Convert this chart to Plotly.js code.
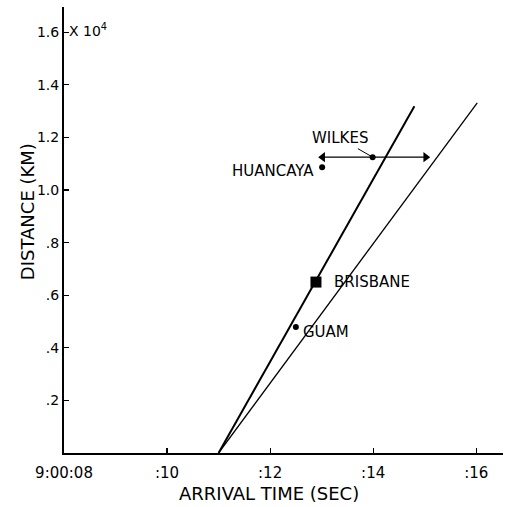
<!DOCTYPE html>
<html>
<head>
<meta charset="utf-8">
<script src="https://cdn.plot.ly/plotly-3.0.1.min.js"></script>
<style>html,body{margin:0;padding:0;background:#fff;}#chart{width:510px;height:507px;}</style>
</head>
<body>
<div id="chart"></div>
<script>
// seconds after 9:00:00 ; distance in units of 10^4 km
const steepLineTime = [11.0, 14.80];
const steepLineDist = [0, 1.319];
const shallowLineTime = [11.0, 16.02];
const shallowLineDist = [0, 1.331];

const stationNames = ["HUANCAYA", "WILKES", "GUAM"];
const stationTime = [13.01, 13.99, 12.50];
const stationDist = [1.087, 1.125, 0.479];

const brisbaneTime = [12.89];
const brisbaneDist = [0.65];

const wilkesRange = [13.02, 15.02];

const xTickVals = [8, 10, 12, 14, 16];
const xTickText = ["9:00:08", ":10", ":12", ":14", ":16"];
const yTickVals = [0.2, 0.4, 0.6, 0.8, 1.0, 1.2, 1.4, 1.6];
const yTickText = [".2", ".4", ".6", ".8", "1.0", "1.2", "1.4", "1.6"];

const F = "DejaVu Sans, Liberation Sans, sans-serif";

const traces = [
  {x: steepLineTime, y: steepLineDist, mode: "lines", line: {color: "#000", width: 2}, hoverinfo: "skip"},
  {x: shallowLineTime, y: shallowLineDist, mode: "lines", line: {color: "#000", width: 1.3}, hoverinfo: "skip"},
  {x: wilkesRange, y: [stationDist[1], stationDist[1]], mode: "lines+markers",
   line: {color: "#000", width: 1.4},
   marker: {color: "#000", size: 9, symbol: ["triangle-left", "triangle-right"]}, hoverinfo: "skip"},
  {x: stationTime, y: stationDist, mode: "markers", marker: {color: "#000", size: 6, symbol: "circle"}, hoverinfo: "skip"},
  {x: brisbaneTime, y: brisbaneDist, mode: "markers", marker: {color: "#000", size: 11, symbol: "square"}, hoverinfo: "skip"}
];

const lab = {family: F, size: 15, color: "#000"};
const annotations = [
  {x: stationTime[0], y: stationDist[0], xref: "x", yref: "y", text: stationNames[0], showarrow: false, xanchor: "right", xshift: -6, yshift: -4, font: lab},
  {x: stationTime[1], y: stationDist[1], xref: "x", yref: "y", text: stationNames[1], showarrow: true, arrowhead: 0, arrowwidth: 1, arrowcolor: "#000", ax: -33, ay: -19, standoff: 2, font: lab},
  {x: stationTime[2], y: stationDist[2], xref: "x", yref: "y", text: stationNames[2], showarrow: false, xanchor: "left", xshift: 5, yshift: -5, font: lab},
  {x: brisbaneTime[0], y: brisbaneDist[0], xref: "x", yref: "y", text: "BRISBANE", showarrow: false, xanchor: "left", xshift: 16, yshift: 0, font: lab},
  {x: 0, y: 1.6, xref: "paper", yref: "y", text: "X 10<sup>4</sup>", showarrow: false, xanchor: "left", xshift: 3, yshift: 2, font: {family: F, size: 14, color: "#000"}},
  {x: 0, y: 0.54, xref: "paper", yref: "paper", text: "DISTANCE (KM)", textangle: -90, showarrow: false, xanchor: "center", yanchor: "middle", xshift: -37, font: {family: F, size: 18, color: "#000"}},
  {x: 0.467, y: 0, xref: "paper", yref: "paper", text: "ARRIVAL TIME (SEC)", showarrow: false, xanchor: "center", yanchor: "middle", yshift: -40, font: {family: F, size: 18, color: "#000"}}
];

const layout = {
  width: 510, height: 507,
  margin: {l: 64, r: 7, t: 7, b: 54},
  paper_bgcolor: "#fff", plot_bgcolor: "#fff",
  showlegend: false,
  font: {family: F, color: "#000"},
  xaxis: {
    range: [8, 16.52], tickvals: xTickVals, ticktext: xTickText,
    ticks: "inside", ticklen: 5, tickwidth: 1.2, tickcolor: "#000",
    showline: true, linecolor: "#000", linewidth: 2, showgrid: false, zeroline: false,
    ticklabelstandoff: 5,
    tickfont: {family: F, size: 15, color: "#000"}
  },
  yaxis: {
    range: [0, 1.696], tickvals: yTickVals, ticktext: yTickText,
    ticks: "inside", ticklen: 5, tickwidth: 1.2, tickcolor: "#000",
    showline: true, linecolor: "#000", linewidth: 2, showgrid: false, zeroline: false,
    tickfont: {family: F, size: 14, color: "#000"}
  },
  annotations: annotations
};

Plotly.newPlot("chart", traces, layout, {displayModeBar: false, staticPlot: true});
</script>
</body>
</html>
